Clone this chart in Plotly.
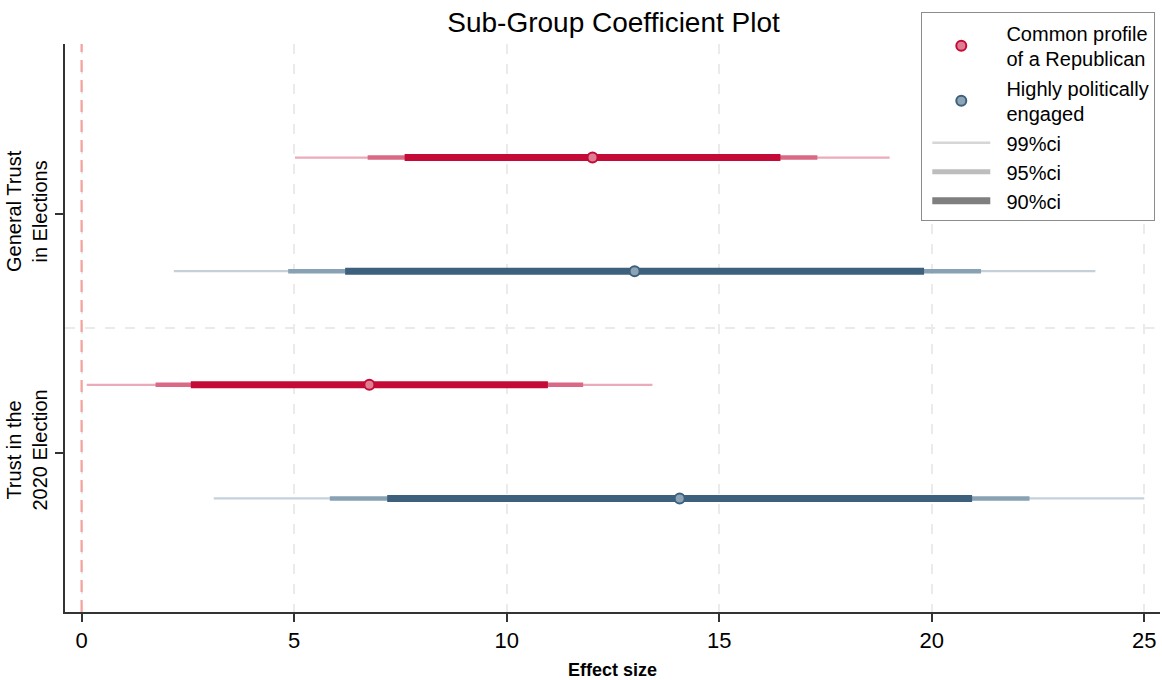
import plotly.graph_objects as go

# ---- data ----
groups = ["General Trust<br>in Elections", "Trust in the<br>2020 Election"]
series_names = ["Common profile<br>of a Republican", "Highly politically<br>engaged"]

red_est = [12.02, 6.77]
red_lo90 = [7.60, 2.57]
red_hi90 = [16.44, 10.97]
red_lo95 = [6.73, 1.74]
red_hi95 = [17.31, 11.80]
red_lo99 = [5.02, 0.12]
red_hi99 = [19.01, 13.43]

blue_est = [13.01, 14.07]
blue_lo90 = [6.20, 7.19]
blue_hi90 = [19.82, 20.95]
blue_lo95 = [4.86, 5.84]
blue_hi95 = [21.16, 22.30]
blue_lo99 = [2.17, 3.11]
blue_hi99 = [23.85, 25.00]

x_ticks = [0, 5, 10, 15, 20, 25]
ref_value = 0

# ---- layout positions ----
group_base = [3.5, 1.5]
group_tick = [3.5, 1.4]
offsets = [0.5, -0.5]

FONT = "Liberation Sans, Arial, sans-serif"
PAD = "\u00a0\u00a0"


def pad(label):
    return "<br>".join(PAD + part for part in label.split("<br>"))


series = [
    dict(name=series_names[0], est=red_est,
         ci={99: (red_lo99, red_hi99), 95: (red_lo95, red_hi95), 90: (red_lo90, red_hi90)},
         col={99: "#EBAABA", 95: "#D96985", 90: "#C40A36"},
         mfill="#DE7C93", mline="#C40A36"),
    dict(name=series_names[1], est=blue_est,
         ci={99: (blue_lo99, blue_hi99), 95: (blue_lo95, blue_hi95), 90: (blue_lo90, blue_hi90)},
         col={99: "#C4D1DB", 95: "#89A2B3", 90: "#3D617C"},
         mfill="#8CA4B6", mline="#3D617C"),
]
widths = {99: 2.2, 95: 4.5, 90: 7}

fig = go.Figure()

# reference line at 0
fig.add_trace(go.Scatter(x=[ref_value, ref_value], y=[0, 5], mode="lines",
                         line=dict(color="#F4A29C", width=2.2, dash="12px,8px"),
                         showlegend=False, hoverinfo="skip"))

for si, s in enumerate(series):
    ys = [b + offsets[si] for b in group_base]
    for lvl in [99, 95, 90]:
        lo, hi = s["ci"][lvl]
        xs, yy = [], []
        for g in range(len(groups)):
            xs += [lo[g], hi[g], None]
            yy += [ys[g], ys[g], None]
        fig.add_trace(go.Scatter(x=xs, y=yy, mode="lines",
                                 line=dict(color=s["col"][lvl], width=widths[lvl]),
                                 showlegend=False, hoverinfo="skip"))

for si, s in enumerate(series):
    ys = [b + offsets[si] for b in group_base]
    fig.add_trace(go.Scatter(x=s["est"], y=ys, mode="markers", name=pad(s["name"]),
                             marker=dict(size=10, color=s["mfill"],
                                         line=dict(color=s["mline"], width=2)),
                             legendrank=1 + si))

legend_lines = [("99%ci", "#D6D6D6", 2.5), ("95%ci", "#BDBDBD", 5), ("90%ci", "#7F7F7F", 7)]
for i, (nm, c, w) in enumerate(legend_lines):
    fig.add_trace(go.Scatter(x=[None], y=[None], mode="lines", name=pad(nm),
                             line=dict(color=c, width=w), legendrank=10 + i))

# group separator
fig.add_shape(type="line", x0=0, x1=0.995, y0=2.5, y1=2.5, xref="paper", yref="y",
              line=dict(color="#E3E3E3", width=1.5, dash="10px,10px"), layer="below")

fig.update_layout(
    width=1162, height=680,
    margin=dict(l=65, r=2, t=44, b=68, autoexpand=False),
    paper_bgcolor="white", plot_bgcolor="white",
    font=dict(family=FONT, color="black"),
    title=dict(text="Sub-Group Coefficient Plot", x=0.528, xanchor="center",
               y=0.968, yanchor="middle", font=dict(size=28, family=FONT)),
    legend=dict(x=0.782, xanchor="left", y=1.056, yanchor="top",
                bgcolor="white", bordercolor="#8C8C8C", borderwidth=1,
                font=dict(size=20, family=FONT), itemwidth=58, indentation=5,
                traceorder="normal"),
    xaxis=dict(range=[-0.39, 25.37], tickvals=x_ticks, ticktext=[str(v) for v in x_ticks],
               automargin=False,
               showgrid=True, gridcolor="#EBEBEB", griddash="10px,10px", gridwidth=1.5,
               zeroline=False, showline=True, linecolor="#333333", linewidth=1.5,
               ticks="outside", ticklen=8, tickcolor="#333333", tickwidth=1.5,
               tickfont=dict(size=22, family=FONT),
               title=dict(text="<b>Effect size</b>", font=dict(size=18, family=FONT), standoff=15)),
    yaxis=dict(range=[0, 5], tickvals=group_tick, ticktext=groups, tickangle=-90,
               automargin=False,
               showgrid=False, zeroline=False, showline=True, linecolor="#333333", linewidth=1.5,
               ticks="outside", ticklen=8, tickcolor="#333333", tickwidth=1.5,
               tickfont=dict(size=20, family=FONT)),
)

fig.write_html("out.html", config={"displayModeBar": False},
               post_script="document.body.style.margin='0px';")
